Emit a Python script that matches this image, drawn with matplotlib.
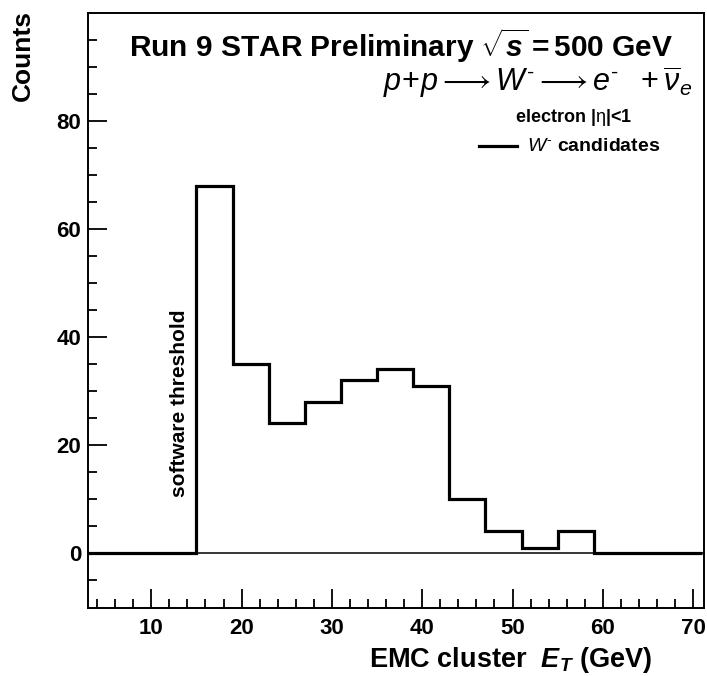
import numpy as np
import matplotlib
import matplotlib.pyplot as plt

matplotlib.use('agg')
plt.rcParams.update({
    "font.family": ["Liberation Sans", "DejaVu Sans"],
    "mathtext.fontset": "custom",
    "mathtext.rm": "Liberation Sans",
    "mathtext.it": "Liberation Sans:italic",
    "mathtext.bf": "Liberation Sans:bold",
    "mathtext.bfit": "Liberation Sans:bold:italic",
})

# EMC cluster E_T histogram, 4 GeV bins from 3 to 71 GeV
bin_edges = np.arange(3, 72, 4)
counts = [0, 0, 0, 68, 35, 24, 28, 32, 34, 31, 10, 4, 1, 4, 0, 0, 0]
x_range = (3, 71.2)
y_range = (-10.2, 100)

fig = plt.figure(figsize=(7.07, 6.76), dpi=100)
ax = fig.add_axes([0.1245, 0.1006, 0.8713, 0.8802])

ax.axhline(0, color="black", lw=1.1, zorder=1)
ax.stairs(counts, bin_edges, color="black", lw=2.3, zorder=2)

ax.set_xlim(*x_range)
ax.set_ylim(*y_range)
ax.set_xticks(np.arange(10, 71, 10))
ax.set_xticks(np.arange(4, 71, 2), minor=True)
ax.set_yticks(np.arange(0, 81, 20))
ax.set_yticks(np.arange(-5, 100, 5), minor=True)
ax.tick_params(which="both", direction="in", top=False, right=False, width=1.3)
ax.tick_params(which="major", length=13.5, labelsize=16, pad=5)
ax.tick_params(axis="x", which="major", pad=7)
ax.tick_params(which="minor", length=6.5)
for lab in ax.get_xticklabels() + ax.get_yticklabels():
    lab.set_fontweight("bold")
for sp in ax.spines.values():
    sp.set_linewidth(1.4)

ax.text(0.95, 0.946, r"Run 9 STAR Preliminary $\sqrt{\mathbfit{s}}$$\mathbf{=}$500 GeV",
        transform=ax.transAxes, ha="right", va="center", fontsize=21.5, fontweight="bold")
ax.text(0.981, 0.884,
        r"$p\!+\!p \longrightarrow W^{\text{-}} \longrightarrow e^{\text{-}}\ \ +\overline{\nu}_{e}$",
        transform=ax.transAxes, ha="right", va="center", fontsize=22)
ax.text(0.789, 0.825, r"electron |$\mathrm{\eta}$|<1", transform=ax.transAxes,
        ha="center", va="center", fontsize=13, fontweight="bold")

# legend entry
ax.plot([0.635, 0.696], [0.776, 0.776], color="black", lw=2.3, transform=ax.transAxes)
ax.text(0.713, 0.776, r"$W^{\text{-}}$ candidates", transform=ax.transAxes,
        ha="left", va="center", fontsize=14, fontweight="bold")

ax.text(0.149, 0.187, "software threshold", transform=ax.transAxes, rotation=90,
        ha="center", va="bottom", fontsize=15, fontweight="bold")

fig.text(23 / 707, 1 - 10 / 676, "Counts", rotation=90, ha="center", va="top",
         fontsize=19, fontweight="bold")
fig.text(652 / 707, 1 - 660 / 676, r"EMC cluster  $\mathbfit{E}_{\mathbfit{T}}$ (GeV)",
         ha="right", va="center", fontsize=19.5, fontweight="bold")

fig.savefig("out.png", dpi=100)
